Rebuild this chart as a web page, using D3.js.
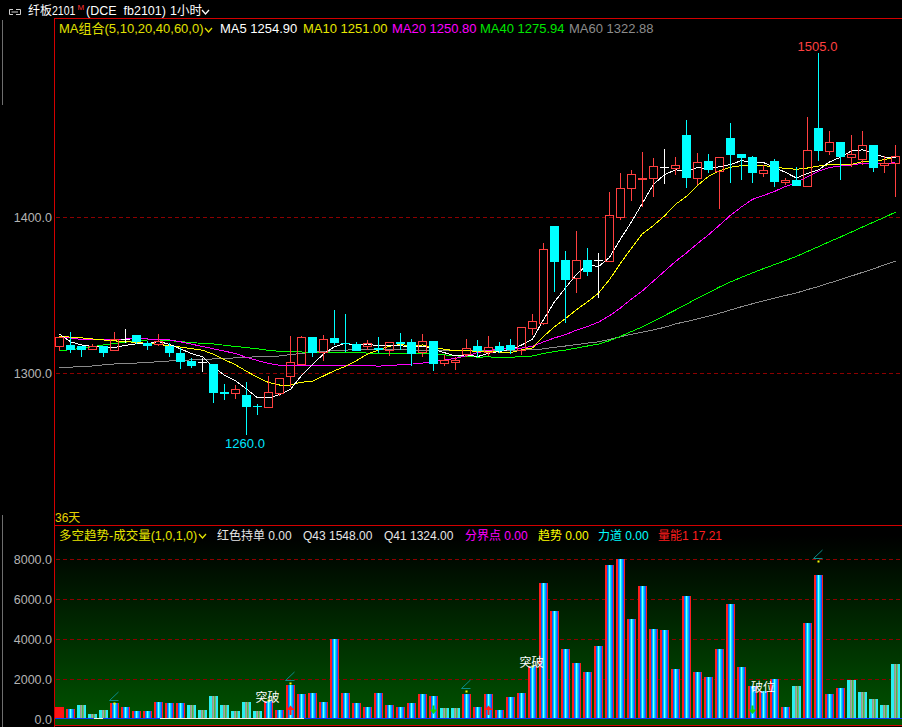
<!DOCTYPE html>
<html>
<head>
<meta charset="utf-8">
<script src="https://cdn.jsdelivr.net/npm/d3@7"></script>
<style>
  html, body { margin: 0; padding: 0; background: #000; }
  svg { display: block; }
  text { font-family: "Liberation Sans", "Noto Sans CJK SC", sans-serif; white-space: pre; }
</style>
</head>
<body>
<script>
// ---- hourly bars, fb2101 ----
const open = [1317,1318,1317,1315.5,1317.5,1315,1321.6,1324.4,1319.5,1318.6,
  1317.5,1313,1308,1307,1306,1288,1287,1286,1279,1278,
  1287.4,1298,1306,1323,1313.7,1322.4,1319.4,1318.6,1317,1316,
  1314.7,1320,1320,1313.7,1320.5,1306.2,1307,1312,1317,1313.7,
  1317,1318,1314.7,1328.6,1332.3,1394.2,1372.4,1360.7,1372.4,1372.4,
  1372,1400.2,1418.4,1424.4,1424.8,1432.3,1431.6,1452.6,1424.8,1436,
  1429.7,1450.4,1440.4,1438.3,1428.4,1436,1422.6,1423.7,1420,1456.8,
  1442,1448,1438.7,1437,1446,1433.3,1434.8];
const high = [1323,1326,1317.5,1318.5,1317.5,1326,1328,1324.4,1320.5,1325,
  1319,1316,1309.5,1309.8,1306,1293,1292.3,1294,1280,1298,
  1297,1324,1324,1323,1324.4,1340.4,1337.8,1320,1321,1323,
  1320,1325.8,1322,1325,1320.5,1311.5,1310.4,1321.8,1321,1324,
  1320,1322,1329.5,1337.6,1383.5,1394.2,1378.2,1391,1380,1377,
  1416,1428,1430,1441.5,1437.6,1443.6,1438.7,1462,1440.8,1440.4,
  1438.3,1460,1440.4,1439,1433.3,1437.2,1425.2,1432.3,1464.3,1505,
  1455,1448,1452.6,1455,1446,1439.1,1446.2];
const low = [1314,1313,1310,1314.7,1310.5,1314,1319,1318.4,1314.7,1317,
  1310,1302.6,1303,1300.8,1281,1282.7,1283.5,1260,1273,1277.8,
  1285,1291,1306,1310,1308,1318,1313.7,1314,1315,1312.6,
  1311,1314.7,1304.7,1310,1301.5,1304.3,1302,1310.5,1310.5,1311,
  1313,1312,1311.5,1324.4,1331,1352,1332.3,1351.5,1362,1348.3,
  1372,1398,1410,1406.6,1412.6,1421,1427,1418.4,1420.5,1428,
  1405,1421.6,1423.7,1421.6,1425.4,1419.4,1420.5,1420,1420,1436,
  1439.7,1423.7,1432.2,1433.3,1429,1428,1412.6];
const close = [1323,1315,1315,1317,1313,1322,1321.6,1320,1317,1320.3,
  1313,1307,1304.5,1307,1287.5,1286.5,1289.7,1278.4,1278,1287.6,
  1296.6,1307,1323,1312.6,1322,1319.4,1318.6,1314.3,1319,1315,
  1320,1318.6,1312,1320.5,1305.6,1308.3,1308.3,1315.8,1314.3,1316.5,
  1314.3,1314.7,1329.5,1333.3,1379.3,1371.4,1359.6,1372.4,1365,1372.4,
  1401.3,1418.4,1427.6,1425.2,1432.7,1432.3,1433.1,1424.8,1435,1430,
  1438.3,1439.7,1438,1428.4,1430.1,1422.6,1423.7,1420,1442.9,1442,
  1448,1438.7,1440.4,1446,1431.6,1434.8,1438.9];

// moving averages
const ma5 = [1325,1320,1318,1317,1316.6,1316.4,1317.7,1318.7,1318.7,1320.2,
  1318.4,1315.5,1312.4,1310.4,1303.8,1298.5,1295,1289.8,1284,1284,
  1286.1,1289.5,1298.4,1305.4,1312.2,1316.8,1319.1,1317.4,1318.7,1317.3,
  1317.4,1317.4,1316.9,1317.2,1315.3,1313,1310.9,1311.7,1310.5,1312.6,
  1313.8,1315.1,1317.9,1321.7,1334.2,1345.6,1354.6,1363.2,1369.5,1368.2,
  1374.1,1385.9,1396.9,1409,1421,1427.2,1430.2,1429.6,1431.6,1431,
  1432.2,1433.6,1436.2,1434.9,1434.9,1431.8,1428.6,1425,1427.9,1430.2,
  1435.3,1438.3,1442.4,1443,1440.9,1438.3,1438.3];
const ma10 = [1323.7,1323,1322.5,1321.8,1321.2,1320.6,1320.1,1319.6,1319,1318.4,
  1317.4,1316.6,1315.6,1314.6,1312,1308.5,1305.3,1301.1,1297.2,1293.9,
  1292.3,1292.3,1294.1,1294.7,1298.1,1301.5,1304.3,1307.9,1312.1,1314.8,
  1317.1,1318.3,1317.2,1318,1316.3,1315.2,1314.2,1314.3,1313.9,1314,
  1313.4,1313,1314.8,1316.1,1323.4,1329.7,1334.9,1340.6,1345.6,1351.2,
  1359.9,1370.3,1380.1,1389.3,1394.6,1400.7,1408.1,1413.3,1420.3,1426,
  1429.7,1431.9,1432.9,1433.3,1433,1432,1431.1,1430.6,1431.4,1432.6,
  1433.6,1433.5,1433.7,1435.5,1435.6,1436.8,1438.3];
const ma20 = [1323.7,1322.5,1321.5,1321.2,1321.3,1321.6,1321.8,1321.8,1321.8,1321.6,
  1321.2,1320,1318.5,1317,1315.5,1314,1312.5,1310,1308,1306.2,
  1304.9,1304.5,1304.9,1304.7,1305.1,1305,1304.8,1304.5,1304.7,1304.4,
  1304.7,1305.3,1305.7,1306.4,1307.2,1308.4,1309.3,1311.1,1313,1314.4,
  1315.3,1315.7,1316,1317.1,1319.9,1322.5,1324.6,1327.5,1329.8,1332.6,
  1336.7,1341.7,1347.5,1352.7,1359,1365.2,1371.5,1377,1383,1388.6,
  1394.8,1401.1,1406.5,1411.3,1413.8,1416.4,1419.6,1422,1425.9,1429.3,
  1431.7,1432.7,1433.3,1434.4,1434.3,1434.4,1434.7];
const ma40 = [1314.1,1315,1315.8,1316.9,1318,1319,1319.8,1320.5,1321.2,1321.2,
  1320.8,1320.1,1319.5,1319,1318.6,1317.8,1317,1316.3,1315.5,1314.5,
  1313.9,1314,1313.5,1313,1313,1313.1,1313.2,1313,1312.8,1312.6,
  1312.6,1312.6,1312.6,1312.4,1312.2,1311.6,1311,1310.6,1310.2,1310.3,
  1310.1,1310.1,1310.5,1310.9,1312.5,1313.8,1314.7,1316,1317.3,1318.5,
  1320.7,1323.5,1326.6,1329.6,1333.1,1336.8,1340.4,1344.1,1348,1351.5,
  1355.1,1358.4,1361.3,1364.2,1366.9,1369.5,1372.1,1374.8,1377.9,1381,
  1384.2,1387.2,1390.4,1393.6,1396.7,1399.8,1403.1];
const ma60 = [1303.6,1303.8,1304,1304.5,1305.2,1305.8,1306.1,1306.4,1306.8,1307.2,
  1307.7,1308.1,1308.4,1308.7,1309,1309.3,1309.7,1310.1,1310.4,1310.7,
  1310.9,1311.8,1312.5,1313.2,1313.8,1314.3,1314.7,1314.9,1315.1,1315.2,
  1315,1314.8,1314.7,1314.5,1314.4,1314.3,1314.3,1314.3,1314.3,1314.4,
  1314.5,1314.7,1314.7,1314.8,1315.5,1316.5,1317.3,1318.2,1319.2,1320,
  1321.5,1323.2,1324.8,1326.2,1327.6,1329.3,1331.5,1333,1334.7,1336.4,
  1338.3,1340.4,1342.5,1344.4,1346.3,1348,1349.7,1351.3,1353.5,1355.4,
  1357.7,1359.9,1362.2,1364.5,1366.8,1369.3,1371.8];

// volume panel
const volume = [580,520,680,230,470,780,580,420,420,830,
  780,780,680,470,1170,720,420,830,380,920,
  470,1720,1250,1320,870,3980,1320,820,620,1320,
  680,620,780,1250,1170,570,570,1270,620,1270,
  470,1120,1320,2630,6780,5380,3480,2780,2330,3630,
  7720,8020,5020,6670,4520,4470,2520,6170,2370,2120,
  3520,5770,2620,1670,1380,2020,620,1670,4820,7220,
  1270,1570,1970,1370,1020,720,2770];
// R = opening bar, A = long-side bar, B = short-side bar
const volumeKind = "RABBBAAAAAAABBBBBBBAAAAAAAAAAAAAAAABBAAAAAAAAAAAAAAAAAAAAAAAAAAAAAABAAAABBBBB".split("");
const signalBars = [5, 21, 37, 69];
const signalValues = [815, 1815, 1415, 7915];
const breakBars = [19, 43, 63];
const breakTexts = ["突破", "突破", "破位"];
const upArrowBars = [21, 39];
const downArrowBars = [34, 63];

const priceTicks = [1300, 1400];
const volumeTicks = [0, 2000, 4000, 6000, 8000];
const maNames = ["MA5", "MA10", "MA20", "MA40", "MA60"];
const maLegendValues = ["1254.90", "1251.00", "1250.80", "1275.94", "1322.88"];
const indicatorItems = [
  ["红色持单", "0.00"], ["Q43", "1548.00"], ["Q41", "1324.00"],
  ["分界点", "0.00"], ["趋势", "0.00"], ["力道", "0.00"], ["量能1", "17.21"]
];

// ---- drawing ----
const W = 902, H = 727;
const N = close.length;
const svg = d3.select("body").append("svg").attr("width", W).attr("height", H);
const defs = svg.append("defs");

const x = d3.scaleBand().domain(d3.range(N)).range([55, 900]).paddingInner(2 / 11).paddingOuter(0);
const bw = Math.round(x.bandwidth());
const x0 = i => Math.round(x(i));
const cx = i => x0(i) + bw / 2;
const y = d3.scaleLinear().domain([1300, 1400]).range([373, 217]);
const yv = d3.scaleLinear().domain([0, 8000]).range([719, 559]);
const fmt1 = d3.format(".1f");

svg.append("rect").attr("width", W).attr("height", H).attr("fill", "#000");

// volume panel background
const bg = defs.append("linearGradient").attr("id", "volBg")
  .attr("x1", 0).attr("x2", 0).attr("y1", 0).attr("y2", 1);
bg.append("stop").attr("offset", 0.05).attr("stop-color", "#000000");
bg.append("stop").attr("offset", 0.97).attr("stop-color", "#005200");
bg.append("stop").attr("offset", 1).attr("stop-color", "#005200");
svg.append("rect").attr("x", 55).attr("y", 526).attr("width", W - 55).attr("height", 199)
  .attr("fill", "url(#volBg)");

// bar fills
function stripes(id, stops) {
  const g = defs.append("linearGradient").attr("id", id).attr("x1", 0).attr("x2", 1).attr("y1", 0).attr("y2", 0);
  stops.forEach(([a, b, c]) => {
    g.append("stop").attr("offset", a).attr("stop-color", c);
    g.append("stop").attr("offset", b).attr("stop-color", c);
  });
}
stripes("barA", [[0, 0.222, "#ff1e1e"], [0.222, 0.333, "#0064ff"], [0.333, 0.444, "#00c8ff"],
  [0.444, 0.556, "#7affff"], [0.556, 0.667, "#00e6ff"], [0.667, 0.778, "#00a0ff"],
  [0.778, 0.889, "#2050ff"], [0.889, 1, "#ff1e1e"]]);
stripes("barB", [[0, 0.333, "#28f0f0"], [0.333, 0.444, "#8c9c8c"], [0.444, 0.556, "#a0a8a0"],
  [0.556, 0.667, "#40c040"], [0.667, 0.778, "#8c9c8c"], [0.778, 1, "#28f0f0"]]);

// grid lines
const grid = svg.append("g").attr("shape-rendering", "crispEdges")
  .attr("stroke", "#8c0000").attr("stroke-dasharray", "4,3");
priceTicks.forEach(t => grid.append("line").attr("x1", 56).attr("x2", W)
  .attr("y1", Math.round(y(t)) + 0.5).attr("y2", Math.round(y(t)) + 0.5));
volumeTicks.filter(t => t > 0).forEach(t => grid.append("line").attr("x1", 56).attr("x2", W)
  .attr("y1", Math.round(yv(t)) + 0.5).attr("y2", Math.round(yv(t)) + 0.5));

// axes
function styleAxis(g) {
  g.attr("font-family", null).attr("font-size", null);
  g.select(".domain").remove();
  g.selectAll(".tick line").remove();
  g.selectAll("text").attr("fill", "#b4b4b4").style("font-size", "12.5px").attr("dy", "0.36em");
}
svg.append("g").attr("transform", "translate(52,0)")
  .call(d3.axisLeft(y).tickValues(priceTicks).tickFormat(fmt1).tickSize(0).tickPadding(0))
  .call(styleAxis);
svg.append("g").attr("transform", "translate(52,0)")
  .call(d3.axisLeft(yv).tickValues(volumeTicks).tickFormat(fmt1).tickSize(0).tickPadding(0))
  .call(styleAxis);

// moving average lines
const maColors = ["#ffffff", "#ffff00", "#ff00ff", "#00ff00", "#8a8a8a"];
const line = d3.line().x((d, i) => cx(i)).y(d => y(d));
[ma60, ma40, ma20, ma10, ma5].forEach((s, k) => {
  svg.append("path").datum(s).attr("d", line).attr("fill", "none")
    .attr("stroke", maColors[4 - k]).attr("stroke-width", 1).attr("shape-rendering", "crispEdges");
});

// candles
const UP = "#ff4040", DOWN = "#00ffff", FLAT = "#ffffff";
const cg = svg.append("g").attr("shape-rendering", "crispEdges");
d3.range(N).forEach(i => {
  const o = open[i], c = close[i];
  const xc = cx(i);
  const yH = Math.round(y(high[i])), yL = Math.round(y(low[i]));
  const yT = Math.round(y(Math.max(o, c))), yB = Math.round(y(Math.min(o, c)));
  const g = cg.append("g");
  if (o === c) {
    g.append("line").attr("x1", xc).attr("x2", xc).attr("y1", yH).attr("y2", yL).attr("stroke", FLAT);
    g.append("line").attr("x1", x0(i)).attr("x2", x0(i) + bw).attr("y1", yT + 0.5).attr("y2", yT + 0.5).attr("stroke", FLAT);
  } else if (c > o) {
    if (yT > yH) g.append("line").attr("x1", xc).attr("x2", xc).attr("y1", yH).attr("y2", yT).attr("stroke", UP);
    if (yL > yB) g.append("line").attr("x1", xc).attr("x2", xc).attr("y1", yB).attr("y2", yL).attr("stroke", UP);
    g.append("rect").attr("x", x0(i) + 0.5).attr("y", yT + 0.5).attr("width", bw - 1)
      .attr("height", Math.max(1, yB - yT)).attr("fill", "none").attr("stroke", UP);
  } else {
    g.append("line").attr("x1", xc).attr("x2", xc).attr("y1", yH).attr("y2", yL).attr("stroke", DOWN);
    g.append("rect").attr("x", x0(i)).attr("y", yT).attr("width", bw)
      .attr("height", Math.max(1, yB - yT)).attr("fill", DOWN);
  }
});

// extreme price labels
const iMax = d3.maxIndex(high), iMin = d3.minIndex(low);
svg.append("text").attr("x", cx(iMax) - 1).attr("y", y(high[iMax]) - 2.5)
  .attr("text-anchor", "middle").attr("fill", "#ff4040").style("font-size", "13px").text(fmt1(high[iMax]));
svg.append("text").attr("x", cx(iMin) - 1.5).attr("y", y(low[iMin]) + 13)
  .attr("text-anchor", "middle").attr("fill", "#00e6ff").style("font-size", "13px").text(fmt1(low[iMin]));

// volume bars
const base = 717.5;
const vg = svg.append("g").attr("shape-rendering", "crispEdges");
d3.range(N).forEach(i => {
  const top = Math.round(yv(volume[i]));
  const k = volumeKind[i];
  vg.append("rect").attr("x", x0(i)).attr("y", top).attr("width", bw).attr("height", base - top)
    .attr("fill", k === "R" ? "#ff1414" : k === "A" ? "url(#barA)" : "url(#barB)");
});
vg.append("rect").attr("x", 55).attr("y", 717.5).attr("width", W - 55).attr("height", 1.8).attr("fill", "#0a3cff");
[[3.5, 4.4], [9.5, 22.6]].forEach(([a, b]) =>
  vg.append("rect").attr("x", 55 + a * 11).attr("y", 717.5).attr("width", (b - a) * 11).attr("height", 1.3).attr("fill", "#f0f0f0"));

// signal marks
signalBars.forEach((b, k) => {
  const yd = Math.round(yv(signalValues[k]));
  const bx = x0(b);
  svg.append("path").attr("d", `M${bx - 0.5},${yd - 2.5} H${bx + 8.5} M${bx - 0.5},${yd - 2.5} L${bx + 8.5},${yd - 11}`)
    .attr("fill", "none").attr("stroke", "#0a8c8c").attr("stroke-width", 1);
  svg.append("rect").attr("x", cx(b) - 1).attr("y", yd - 0.5).attr("width", 2).attr("height", 2).attr("fill", "#ffff00");
});
breakBars.forEach((b, k) => {
  const top = yv(volume[b]);
  if (breakTexts[k] === "突破") {
    svg.append("rect").attr("x", cx(b) - 1).attr("y", top - 1).attr("width", 2).attr("height", 2).attr("fill", "#ffff00");
    svg.append("text").attr("x", cx(b) - 1).attr("y", top + 1).attr("text-anchor", "middle")
      .attr("fill", "#ffffff").style("font-size", "12px").text(breakTexts[k]);
  } else {
    svg.append("text").attr("x", cx(b) - 1.5).attr("y", top + 6)
      .attr("fill", "#ffffff").style("font-size", "12px").text(breakTexts[k]);
  }
});
upArrowBars.forEach(b => {
  const c = cx(b);
  svg.append("path").attr("d", `M${c - 4},${710} L${c},${705.5} L${c + 4},${710} Z M${c - 1},${710} H${c + 1} V${715} H${c - 1} Z`)
    .attr("fill", "#ff2020");
});
downArrowBars.forEach(b => {
  const c = cx(b);
  svg.append("path").attr("d", `M${c - 1},${705.5} H${c + 1} V${709.5} H${c - 1} Z M${c - 4},${709.5} L${c + 4},${709.5} L${c},${714} Z`)
    .attr("fill", "#10d010");
});

// frame lines
const fr = svg.append("g").attr("shape-rendering", "crispEdges").attr("stroke", "#d20000");
fr.append("line").attr("x1", 55).attr("x2", W).attr("y1", 18.5).attr("y2", 18.5);
fr.append("line").attr("x1", 54.5).attr("x2", 54.5).attr("y1", 18).attr("y2", H);
fr.append("line").attr("x1", 55).attr("x2", W).attr("y1", 525.5).attr("y2", 525.5);
fr.append("line").attr("x1", 55).attr("x2", W).attr("y1", 725.5).attr("y2", 725.5);
const gl = svg.append("g").attr("shape-rendering", "crispEdges").attr("stroke", "#6e6e6e");
gl.append("line").attr("x1", 2.5).attr("x2", 2.5).attr("y1", 20).attr("y2", 105);
gl.append("line").attr("x1", 2.5).attr("x2", 2.5).attr("y1", 515).attr("y2", H);

// header
function chevron(px, py, color) {
  svg.append("path").attr("d", `M${px},${py} L${px + 3.5},${py + 4} L${px + 7},${py}`)
    .attr("fill", "none").attr("stroke", color).attr("stroke-width", 1.3);
}
function label(px, py, str, color, size) {
  return svg.append("text").attr("x", px).attr("y", py).attr("fill", color)
    .style("font-size", (size || 12.5) + "px").text(str);
}
svg.append("path").attr("d", "M13,9.5 H9.5 V14.5 H13 M16,9.5 H20.5 V14.5 H16 M11.5,12 H18")
  .attr("fill", "none").attr("stroke", "#d0d0d0").attr("stroke-width", 1);
label(28, 15, "纤板", "#ffffff", 12);
label(52, 15, "2101", "#ffffff", 12).attr("textLength", 23.5).attr("lengthAdjust", "spacingAndGlyphs");
label(77.5, 9.5, "M", "#ff3030", 8);
label(86, 15, "(DCE  fb2101)", "#ffffff");
label(170, 15, "1小时", "#ffffff");
chevron(202, 10, "#ffffff");

label(59, 33, "MA组合(5,10,20,40,60,0)", "#e0e000", 13);
chevron(205, 28, "#e0e000");
const legendX = [220, 303, 392, 480, 569];
const legendColors = ["#ffffff", "#e6e600", "#ff00ff", "#00e600", "#8c8c8c"];
maNames.forEach((n, k) => label(legendX[k], 33, n + " " + maLegendValues[k], legendColors[k], 13));

label(55, 522, "36天", "#e6d200", 12);

label(59, 539.5, "多空趋势-成交量(1,0,1,0)", "#e6e600", 12.5);
chevron(199, 534, "#e6e600");
const indX = [217, 303, 384, 465, 538, 598, 658];
const indColors = ["#e6e6e6", "#e6e6e6", "#e6e6e6", "#ff00ff", "#ffff00", "#00ffff", "#ff1e1e"];
indicatorItems.forEach(([n, v], k) => label(indX[k], 539.5, n + " " + v, indColors[k], 12));
</script>
</body>
</html>
